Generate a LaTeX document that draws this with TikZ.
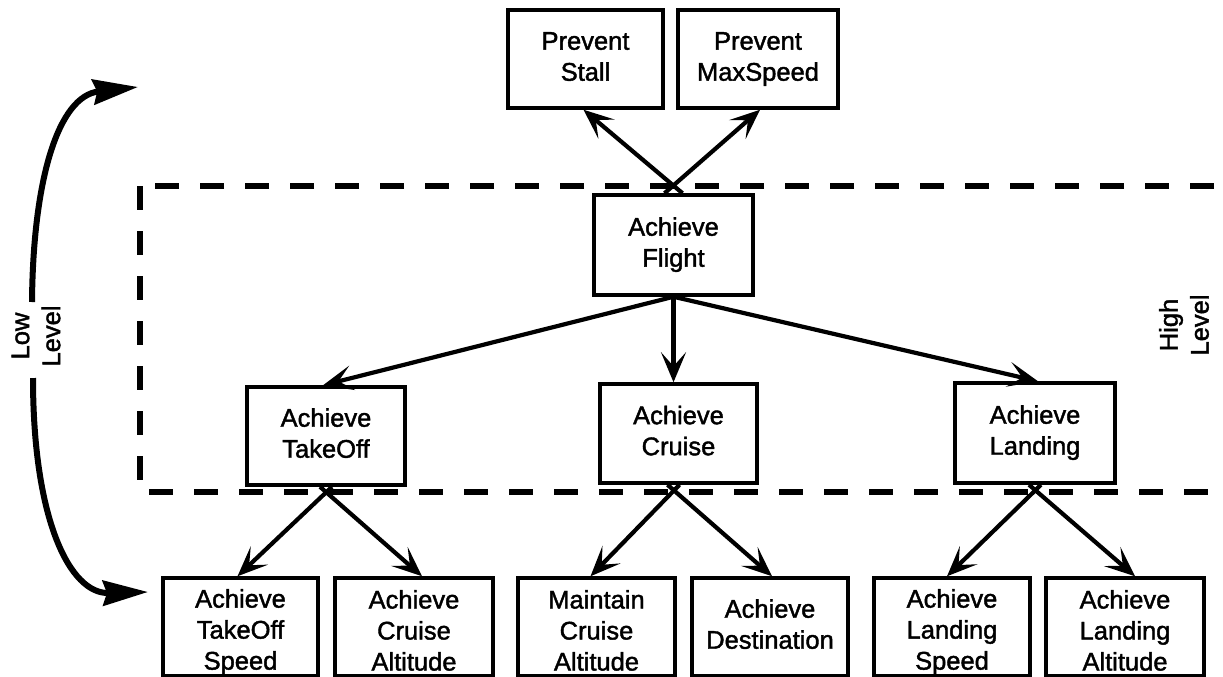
\documentclass[tikz,border=0pt]{standalone}
\usepackage{fontspec}
\setmainfont{Liberation Sans}
\newfontfamily\heavysans[FakeBold=1.6]{Liberation Sans}
\usetikzlibrary{arrows.meta,calc}
\newcommand\tstrut{\rule{0pt}{21.7pt}}
\newcommand\bstrut{\rule[-9.3pt]{0pt}{9.3pt}}
\newcommand\hstrut{\rule{0pt}{28.5pt}}
\newcommand\lstrut{\rule[-3.5pt]{0pt}{3.5pt}}
\tikzset{
  goal/.style={draw, line width=3.5pt, fill=white, inner sep=0pt, align=center,
    minimum width=157pt, minimum height=98pt,
    font=\fontsize{25.5}{31}\heavysans},
  lbl/.style={rotate=90, align=center, inner sep=0pt, font=\fontsize{25.5}{31}\heavysans},
  tree/.style={line width=4.2pt, -{Stealth[length=30pt,width=25pt,inset=14pt]}},
  levelarrow/.style={line width=6pt, -{Stealth[length=45pt,width=25pt,inset=4pt]}},
  region/.style={line width=6pt, dash pattern=on 24pt off 21pt}
}
\begin{document}
\begin{tikzpicture}[x=1pt,y=-1pt]
\useasboundingbox (0,0) rectangle (1223,677);
% dashed high-level region
\draw[region] (140,186) rectangle (1226,492);
% boxes
\node[goal, minimum width=155pt] (stall) at (585.5,59) {\tstrut Prevent\\Stall\bstrut};
\node[goal, minimum width=160pt] (maxspeed) at (758,59) {\tstrut Prevent\\MaxSpeed\bstrut};
\node[goal, minimum width=159pt, minimum height=100pt] (flight) at (673.5,245) {\tstrut Achieve\\Flight\bstrut};
\node[goal, minimum width=158pt] (takeoff) at (326,436) {\tstrut Achieve\\TakeOff\bstrut};
\node[goal, minimum width=157pt, minimum height=99pt] (cruise) at (678.5,433.5) {\tstrut Achieve\\Cruise\bstrut};
\node[goal, minimum width=160pt, minimum height=100pt] (landing) at (1035,433) {\tstrut Achieve\\Landing\bstrut};
\node[goal, minimum width=155pt] (tos) at (240.5,627) {\hstrut Achieve\\TakeOff\\Speed\lstrut};
\node[goal, minimum width=158pt] (cra) at (414,627) {\hstrut Achieve\\Cruise\\Altitude\lstrut};
\node[goal, minimum width=157pt] (mca) at (596.5,627) {\hstrut Maintain\\Cruise\\Altitude\lstrut};
\node[goal, minimum width=156pt] (dest) at (770,627) {\tstrut Achieve\\Destination\bstrut};
\node[goal, minimum width=156pt] (ls) at (952,627) {\hstrut Achieve\\Landing\\Speed\lstrut};
\node[goal, minimum width=158pt] (la) at (1125,627) {\hstrut Achieve\\Landing\\Altitude\lstrut};
% level labels
\node[lbl] (low) at (36,336) {Low\\Level};
\node[lbl] (high) at (1184,325) {High\\Level};
\coordinate (lowtop) at (32,302);
\coordinate (lowbot) at (33,378);
\coordinate (toptip) at (138,87);
\coordinate (bottip) at (148,592);
\draw[levelarrow] (lowtop) .. controls (33,180) and (58,96) .. (toptip);
\draw[levelarrow] (lowbot) .. controls (33,520) and (70,594) .. (bottip);
% tree connectors
\draw[tree] ($(flight.north)+(9,0)$) -- ($(stall.south)+(-2,0)$);
\draw[tree] ($(flight.north)+(-9,0)$) -- ($(maxspeed.south)+(2,0)$);
\draw[tree] (flight.south) -- ($(takeoff.north)+(-3,0)$);
\draw[tree] (flight.south) -- (flight.south |- cruise.north);
\draw[tree] (flight.south) -- ($(landing.north)+(3,0)$);
\draw[tree] ($(takeoff.south)+(6,0)$) -- ($(tos.north)+(-3,0)$);
\draw[tree] ($(takeoff.south)+(-6,0)$) -- ($(cra.north)+(8,0)$);
\draw[tree] ($(cruise.south)+(1,0)$) -- ($(mca.north)+(-6,0)$);
\draw[tree] ($(cruise.south)+(-11,0)$) -- ($(dest.north)+(2,0)$);
\draw[tree] ($(landing.south)+(6,0)$) -- ($(ls.north)+(-5,0)$);
\draw[tree] ($(landing.south)+(-6,0)$) -- ($(la.north)+(10,0)$);
\end{tikzpicture}
\end{document}
